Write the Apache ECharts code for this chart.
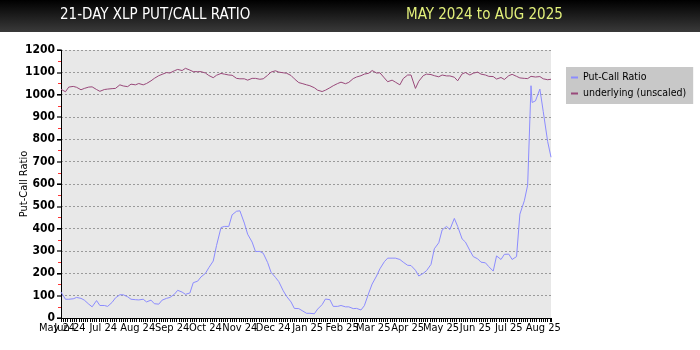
<!DOCTYPE html>
<html>
<head>
<meta charset="utf-8">
<script src="https://cdn.jsdelivr.net/npm/echarts@6/dist/echarts.min.js"></script>
<style>
  html, body { margin: 0; padding: 0; background: #fff; }
  #chart { width: 700px; height: 350px; }
</style>
</head>
<body>
<div id="chart"></div>
<script>
// sampled twice a week off the picture
const dates = [
  "2024-05-24", "2024-05-28", "2024-05-31", "2024-06-04", "2024-06-07", "2024-06-11", "2024-06-14", "2024-06-18", "2024-06-21", "2024-06-25",
  "2024-06-28", "2024-07-02", "2024-07-05", "2024-07-09", "2024-07-12", "2024-07-16", "2024-07-19", "2024-07-23", "2024-07-26", "2024-07-30",
  "2024-08-02", "2024-08-06", "2024-08-09", "2024-08-13", "2024-08-16", "2024-08-20", "2024-08-23", "2024-08-27", "2024-08-30", "2024-09-03",
  "2024-09-06", "2024-09-10", "2024-09-13", "2024-09-17", "2024-09-20", "2024-09-24", "2024-09-27", "2024-10-01", "2024-10-04", "2024-10-08",
  "2024-10-11", "2024-10-15", "2024-10-18", "2024-10-22", "2024-10-25", "2024-10-29", "2024-11-01", "2024-11-05", "2024-11-08", "2024-11-12",
  "2024-11-15", "2024-11-19", "2024-11-22", "2024-11-26", "2024-11-29", "2024-12-03", "2024-12-06", "2024-12-10", "2024-12-13", "2024-12-17",
  "2024-12-20", "2024-12-24", "2024-12-27", "2024-12-31", "2025-01-03", "2025-01-07", "2025-01-10", "2025-01-14", "2025-01-17", "2025-01-21",
  "2025-01-24", "2025-01-28", "2025-01-31", "2025-02-04", "2025-02-07", "2025-02-11", "2025-02-14", "2025-02-18", "2025-02-21", "2025-02-25",
  "2025-02-28", "2025-03-04", "2025-03-07", "2025-03-11", "2025-03-14", "2025-03-18", "2025-03-21", "2025-03-25", "2025-03-28", "2025-04-01",
  "2025-04-04", "2025-04-08", "2025-04-11", "2025-04-15", "2025-04-18", "2025-04-22", "2025-04-25", "2025-04-29", "2025-05-02", "2025-05-06",
  "2025-05-09", "2025-05-13", "2025-05-16", "2025-05-20", "2025-05-23", "2025-05-27", "2025-05-30", "2025-06-03", "2025-06-06", "2025-06-10",
  "2025-06-13", "2025-06-17", "2025-06-20", "2025-06-24", "2025-06-27", "2025-07-01", "2025-07-04", "2025-07-08", "2025-07-11", "2025-07-15",
  "2025-07-18", "2025-07-21", "2025-07-22", "2025-07-25", "2025-07-29", "2025-08-01", "2025-08-05", "2025-08-08",
];

const putCall = [
  116, 84, 84, 86, 92, 88, 80, 62, 50, 78,
  56, 56, 52, 70, 90, 104, 104, 95, 84, 82,
  81, 84, 72, 80, 64, 62, 80, 88, 92, 106,
  124, 116, 106, 112, 158, 165, 184, 200, 225, 255,
  325, 405, 410, 410, 462, 478, 480, 425, 375, 340,
  298, 298, 290, 248, 205, 182, 163, 122, 97, 72,
  43, 42, 33, 21, 21, 19, 40, 60, 85, 82,
  52, 52, 56, 50, 50, 42, 43, 36, 55, 112,
  152, 188, 220, 252, 268, 268, 268, 262, 250, 236,
  235, 214, 188, 200, 212, 240, 310, 337, 394, 410,
  396, 446, 410, 354, 340, 302, 275, 265, 250, 247,
  230, 210, 278, 262, 285, 286, 262, 275, 465, 525,
  595, 1040, 965, 972, 1025, 925, 790, 720,
];

const underlying = [
  1024, 1013, 1034, 1037, 1033, 1022, 1028, 1034, 1035, 1023,
  1015, 1023, 1025, 1027, 1028, 1044, 1039, 1036, 1047, 1044,
  1050, 1044, 1050, 1062, 1073, 1085, 1091, 1099, 1097, 1107,
  1113, 1108, 1118, 1110, 1103, 1103, 1103, 1097, 1086, 1076,
  1087, 1095, 1092, 1088, 1087, 1073, 1071, 1071, 1065, 1073,
  1073, 1069, 1071, 1087, 1101, 1107, 1101, 1098, 1096, 1086,
  1071, 1054, 1050, 1044, 1040, 1031, 1020, 1014, 1020, 1031,
  1040, 1050, 1056, 1049, 1055, 1072, 1079, 1085, 1092, 1096,
  1108, 1097, 1098, 1075, 1058, 1065, 1056, 1044, 1072, 1088,
  1088, 1028, 1060, 1085, 1092, 1090, 1085, 1080, 1088, 1084,
  1084, 1078, 1062, 1093, 1099, 1088, 1096, 1101, 1092, 1088,
  1082, 1081, 1070, 1077, 1068, 1085, 1091, 1082, 1075, 1073,
  1072, 1082, 1084, 1079, 1081, 1071, 1067, 1069,
];

const monthNames = ["Jan", "Feb", "Mar", "Apr", "May", "Jun", "Jul", "Aug", "Sep", "Oct", "Nov", "Dec"];
const yMin = 0;
const yMax = 1200;
const yStep = 100;

const font = "'Liberation Sans Narrow', 'DejaVu Sans Condensed', sans-serif";
const DAY = 86400000;
const spanDays = Math.round((Date.parse(dates[dates.length - 1]) - Date.parse(dates[0])) / DAY);

const monthLabel = (v) => {
  const d = new Date(v);
  return monthNames[d.getMonth()] + " " + String(d.getFullYear()).slice(2);
};

const chart = echarts.init(document.getElementById("chart"), null, { renderer: "canvas" });

const option = {
  animation: false,
  backgroundColor: "#fff",
  graphic: [
    {
      type: "rect",
      left: 0,
      top: 0,
      z: 0,
      shape: { width: 700, height: 32 },
      style: {
        fill: new echarts.graphic.LinearGradient(0, 0, 0, 1, [
          { offset: 0, color: "#000" },
          { offset: 1, color: "#3a3a3a" },
        ]),
      },
    },
  ],
  title: [
    {
      text: "21-DAY XLP PUT/CALL RATIO",
      left: 60,
      top: 8,
      padding: 0,
      textStyle: { color: "#fff", fontSize: 15, fontWeight: "normal", fontFamily: font },
    },
    {
      text: "MAY 2024 to AUG 2025",
      left: 406,
      top: 8,
      padding: 0,
      textStyle: { color: "#e2f07a", fontSize: 15, fontWeight: "normal", fontFamily: font },
    },
  ],
  legend: {
    orient: "vertical",
    left: 566,
    top: 67,
    backgroundColor: "#c8c8c8",
    padding: [5, 7, 5, 5],
    itemWidth: 7,
    itemHeight: 2,
    itemGap: 5,
    icon: "rect",
    textStyle: { color: "#000", fontSize: 10.5, fontFamily: font },
    data: ["Put-Call Ratio", "underlying (unscaled)"],
  },
  grid: {
    left: 61,
    right: 149,
    top: 50,
    bottom: 32,
    show: true,
    backgroundColor: "#e8e8e8",
    borderWidth: 0,
  },
  xAxis: [
    {
      // month labels
      type: "time",
      min: dates[0],
      max: dates[dates.length - 1],
      splitNumber: 15,
      minInterval: 28 * DAY,
      maxInterval: 31 * DAY,
      axisLine: { show: true, lineStyle: { color: "#000", width: 1 } },
      axisTick: { show: false },
      splitLine: { show: false },
      axisLabel: {
        color: "#000",
        fontSize: 11,
        fontFamily: font,
        margin: 5,
        hideOverlap: false,
        showMinLabel: false,
        showMaxLabel: false,
        formatter: (v) => (new Date(v).getDate() === 1 ? monthLabel(v) : ""),
      },
    },
    {
      // first month label, squeezed at the left edge
      type: "time",
      min: dates[0],
      max: dates[dates.length - 1],
      position: "bottom",
      axisLine: { show: false },
      axisTick: { show: false },
      splitLine: { show: false },
      axisLabel: {
        color: "#000",
        fontSize: 11,
        fontFamily: font,
        margin: 5,
        showMinLabel: true,
        showMaxLabel: false,
        padding: [0, 8, 0, 0],
        formatter: (v) => (v === +new Date(dates[0].replace(/-/g, "/")) ? monthLabel(v) : ""),
      },
    },
    {
      // dense day hatch along the bottom
      type: "value",
      min: 0,
      max: spanDays,
      interval: 2,
      position: "bottom",
      axisLine: { show: false },
      axisTick: { show: true, length: 4, lineStyle: { color: "#000", width: 1 } },
      axisLabel: { show: false },
      splitLine: { show: false },
    },
  ],
  yAxis: [
    {
      type: "value",
      min: yMin,
      max: yMax,
      interval: yStep,
      name: "Put-Call Ratio",
      nameLocation: "middle",
      nameGap: 31,
      nameMoveOverlap: false,
      nameTextStyle: { color: "#000", fontSize: 11, fontFamily: font },
      axisLine: { show: true, lineStyle: { color: "#000", width: 1 } },
      axisTick: { show: true, length: 4, lineStyle: { color: "#666", width: 2 } },
      minorTick: { show: true, splitNumber: 2, length: 3, lineStyle: { color: "#ff3333", width: 1 } },
      splitLine: { show: true, lineStyle: { color: "#9a9a9a", type: [2, 2], width: 1 } },
      axisLabel: {
        color: "#000",
        fontSize: 12,
        fontWeight: "bold",
        fontFamily: font,
        margin: 6,
        formatter: (v) => String(v),
      },
    },
    {
      type: "value",
      min: yMin,
      max: yMax,
      interval: yStep * 2,
      position: "left",
      axisLine: { show: false },
      axisTick: { show: true, length: 4, lineStyle: { color: "#000", width: 1 } },
      axisLabel: { show: false },
      splitLine: { show: false },
    },
  ],
  series: [
    {
      name: "Put-Call Ratio",
      type: "line",
      xAxisIndex: 0,
      yAxisIndex: 0,
      data: dates.map((d, i) => [d, putCall[i]]),
      showSymbol: false,
      lineStyle: { color: "#8c8cff", width: 1 },
      itemStyle: { color: "#8c8cff" },
      z: 3,
    },
    {
      name: "underlying (unscaled)",
      type: "line",
      xAxisIndex: 0,
      yAxisIndex: 0,
      data: dates.map((d, i) => [d, underlying[i]]),
      showSymbol: false,
      lineStyle: { color: "#99497a", width: 1 },
      itemStyle: { color: "#99497a" },
      z: 3,
    },
  ],
};

chart.setOption(option);
</script>
</body>
</html>
